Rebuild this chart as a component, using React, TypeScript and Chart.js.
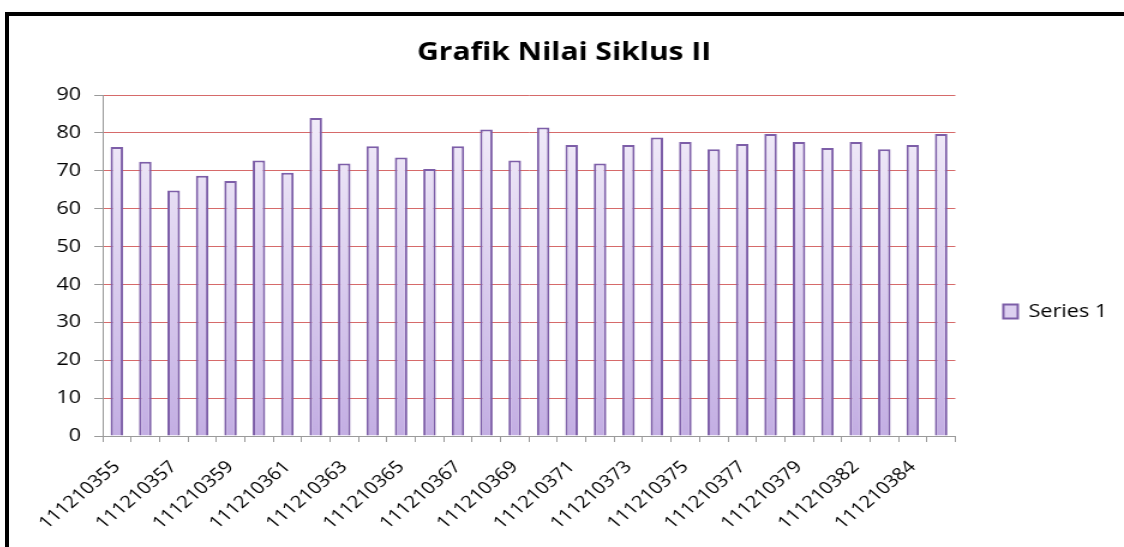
import React, { useEffect, useRef } from "react";
import { Chart, registerables } from "chart.js";

Chart.register(...registerables);

const categories: string[] = [
  "111210355", "111210356", "111210357", "111210358", "111210359", "111210360",
  "111210361", "111210362", "111210363", "111210364", "111210365", "111210366",
  "111210367", "111210368", "111210369", "111210370", "111210371", "111210372",
  "111210373", "111210374", "111210375", "111210376", "111210377", "111210378",
  "111210379", "111210380", "111210382", "111210383", "111210384", "111210385",
];

const series1: number[] = [
  76.3, 72.4, 64.8, 68.7, 67.3, 72.7, 69.5, 83.9, 71.9, 76.5,
  73.5, 70.5, 76.5, 80.9, 72.7, 81.4, 76.8, 71.9, 76.8, 78.8,
  77.6, 75.7, 77.1, 79.7, 77.6, 76.0, 77.6, 75.7, 76.8, 79.7,
];

const yMin = 0;
const yMax = 90;
const yStep = 10;

const seriesName = "Series 1";
const titleText = "Grafik Nilai Siklus II";

// the reference picture is stretched horizontally; draw narrower and stretch with CSS
const STRETCH = 1.2;
const CSS_W = 1115;
const CSS_H = 531;

export default function App() {
  const ref = useRef<HTMLCanvasElement | null>(null);

  useEffect(() => {
    if (!ref.current) return;
    const font = "'Open Sans', 'Noto Sans', sans-serif";
    const legendShift = {
      id: "legendShift",
      afterLayout(chart: any) {
        const l = chart.legend;
        if (!l) return;
        const d = 30;
        l.top += d;
        l.bottom += d;
      },
    };
    const chart = new Chart(ref.current, {
      type: "bar",
      data: {
        labels: categories,
        datasets: [
          {
            label: seriesName,
            data: series1,
            backgroundColor: (ctx: any) => {
              const c = ctx.chart;
              const area = c.chartArea;
              if (!area) return "#ddd0f0";
              const g = c.ctx.createLinearGradient(0, area.top, 0, area.bottom);
              g.addColorStop(0, "#f5f1fb");
              g.addColorStop(1, "#c3aee3");
              return g;
            },
            borderColor: "#7d5ea8",
            borderWidth: 2,
            borderSkipped: "bottom",
            barPercentage: 1,
            categoryPercentage: 0.44,
          },
        ],
      },
      plugins: [legendShift],
      options: {
        responsive: false,
        animation: false,
        devicePixelRatio: 1,
        layout: { padding: { top: 0, left: 0, bottom: 0, right: 4 } },
        plugins: {
          title: {
            display: true,
            text: titleText,
            color: "#000",
            font: { family: font, size: 25, weight: "bold" },
            padding: { top: 22, bottom: 27 },
          },
          legend: {
            display: true,
            position: "right",
            align: "center",
            maxWidth: 137,
            labels: {
              color: "#000",
              font: { family: font, size: 18 },
              boxWidth: 12,
              boxHeight: 14,
              padding: 40,
              generateLabels: () => [
                {
                  text: seriesName,
                  fillStyle: "#ddd0f0",
                  strokeStyle: "#7d5ea8",
                  lineWidth: 2,
                  hidden: false,
                  datasetIndex: 0,
                } as any,
              ],
            },
          },
          tooltip: { enabled: false },
        },
        scales: {
          x: {
            offset: true,
            afterFit: (scale: any) => {
              scale.height = 111;
            },
            grid: {
              display: true,
              drawOnChartArea: false,
              offset: true,
              color: "#9a9a9a",
              tickLength: 6,
              lineWidth: 1,
            },
            border: { display: true, color: "#9a9a9a", width: 1 },
            ticks: {
              autoSkip: false,
              minRotation: 45,
              maxRotation: 45,
              color: "#000",
              font: { family: font, size: 17 },
              padding: 15,
              callback: (_v: any, i: number) => (i % 2 === 0 ? categories[i] : ""),
            },
          },
          y: {
            min: yMin,
            max: yMax,
            afterFit: (scale: any) => {
              scale.width = 78;
            },
            grid: {
              color: "#d66a6a",
              tickColor: "#9a9a9a",
              tickLength: 7,
              lineWidth: 1,
            },
            border: { display: true, color: "#9a9a9a", width: 1 },
            ticks: {
              stepSize: yStep,
              color: "#000",
              font: { family: font, size: 18 },
              padding: 11,
            },
          },
        },
      },
    });
    return () => chart.destroy();
  }, []);

  return (
    <div style={{ position: "absolute", left: 0, top: 0, width: 1124, height: 547, overflow: "hidden", background: "#fff" }}>
      <div
        style={{
          position: "absolute",
          left: 5,
          top: 12,
          width: 1140,
          height: 560,
          border: "4px solid #000",
          boxSizing: "border-box",
        }}
      />
      <canvas
        ref={ref}
        width={Math.round(CSS_W / STRETCH)}
        height={CSS_H}
        style={{ position: "absolute", left: 9, top: 16, width: CSS_W, height: CSS_H }}
      />
    </div>
  );
}
